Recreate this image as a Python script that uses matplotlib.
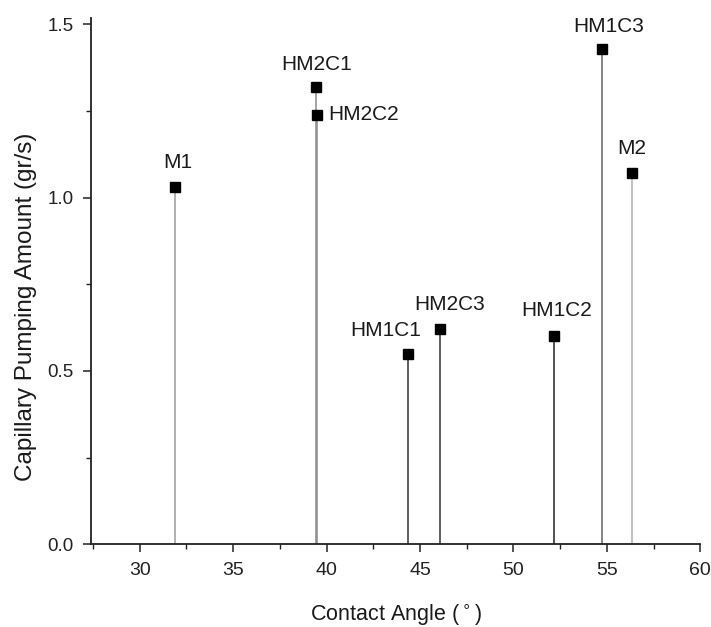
import matplotlib
matplotlib.use("Agg")
import matplotlib.pyplot as plt
from matplotlib.ticker import MultipleLocator, FormatStrFormatter

plt.rcParams['font.family'] = ['Liberation Sans', 'DejaVu Sans']

names = ["M1", "HM2C1", "HM2C2", "HM1C1", "HM2C3", "HM1C2", "HM1C3", "M2"]
angle = [31.9, 39.45, 39.5, 44.35, 46.05, 52.15, 54.75, 56.35]
pumping = [1.03, 1.32, 1.24, 0.55, 0.62, 0.60, 1.43, 1.07]

# styling (not data)
line_shade = ["#9a9a9a", "#8a8a8a", "#8a8a8a", "#333333", "#333333", "#222222", "#666666", "#b0b0b0"]
label_offsets = [(2, 11), (0, 9), (8, 0), (-16, 10), (7, 11), (2, 12), (5, 9), (0, 11)]
label_align = ["center", "center", "left", "center", "center", "center", "center", "center"]
label_valign = ["bottom", "bottom", "center", "bottom", "bottom", "bottom", "bottom", "bottom"]

fig = plt.figure(figsize=(7.11, 6.27), dpi=100)
ax = fig.add_axes([0.128, 0.132, 0.857, 0.84])

for x, y, c in zip(angle, pumping, line_shade):
    ax.vlines(x, 0, y, color=c, lw=1.1, zorder=1)
ax.plot(angle, pumping, linestyle='none', marker='s', ms=7, color='black', zorder=3)

for n, x, y, off, ha, va in zip(names, angle, pumping, label_offsets, label_align, label_valign):
    ax.annotate(n, (x, y), xytext=off, textcoords='offset points',
                ha=ha, va=va, fontsize=15, color='#1a1a1a')

ax.set_xlim(27.4, 60)
ax.set_ylim(0, 1.52)
ax.xaxis.set_major_locator(MultipleLocator(5))
ax.xaxis.set_minor_locator(MultipleLocator(2.5))
ax.yaxis.set_major_locator(MultipleLocator(0.5))
ax.yaxis.set_minor_locator(MultipleLocator(0.25))
ax.yaxis.set_major_formatter(FormatStrFormatter('%.1f'))
for s in ['top', 'right']:
    ax.spines[s].set_visible(False)
for s in ['left', 'bottom']:
    ax.spines[s].set_linewidth(1.3)
    ax.spines[s].set_color('#222222')
ax.tick_params(which='major', direction='out', length=6, width=1.1, colors='#222222')
ax.tick_params(axis='x', which='major', labelsize=14, pad=7)
ax.tick_params(axis='y', which='major', labelsize=13.5, pad=6.5)
ax.tick_params(which='minor', direction='out', length=3.5, width=1.0, colors='#222222')
ax.set_xlabel("Contact Angle ($^\\circ$)", fontsize=15.5, color='#1a1a1a')
ax.set_ylabel("Capillary Pumping Amount (gr/s)", fontsize=17.5, color='#1a1a1a')
ax.xaxis.set_label_coords(0.5, -0.112)
ax.yaxis.set_label_coords(-0.088, 0.45)

fig.savefig("out.png", dpi=100)
